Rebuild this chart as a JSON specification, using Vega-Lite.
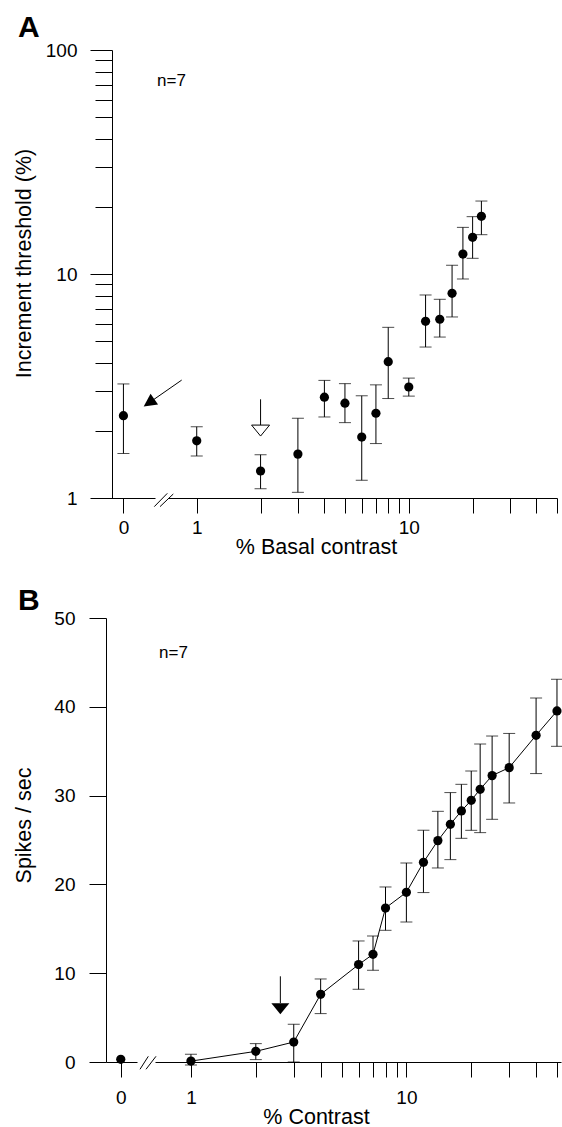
{
  "$schema": "https://vega.github.io/schema/vega-lite/v6.json",
  "background": "white",
  "padding": {"left": 13, "top": 13, "right": 0, "bottom": 0},
  "config": {
    "view": {"stroke": null},
    "font": "Liberation Sans",
    "axis": {"grid": false, "domainColor": "black", "tickColor": "black", "labelColor": "black", "titleColor": "black", "labelFontSize": 19, "titleFontSize": 21.5, "titleFontWeight": "normal", "labelFont": "Liberation Sans", "titleFont": "Liberation Sans", "domainWidth": 1, "tickWidth": 1, "labelFlush": false, "labelOverlap": false},
    "title": {"font": "Liberation Sans", "fontSize": 30, "fontWeight": "bold", "anchor": "start", "color": "black"}
  },
  "datasets": {
    "A": [
      {"x": 1, "y": 1.80, "lo": 1.54, "hi": 2.08},
      {"x": 2, "y": 1.32, "lo": 1.10, "hi": 1.56},
      {"x": 3, "y": 1.57, "lo": 1.06, "hi": 2.27},
      {"x": 4, "y": 2.82, "lo": 2.30, "hi": 3.35},
      {"x": 5, "y": 2.65, "lo": 2.17, "hi": 3.24},
      {"x": 6, "y": 1.87, "lo": 1.20, "hi": 2.86},
      {"x": 7, "y": 2.39, "lo": 1.75, "hi": 3.20},
      {"x": 8, "y": 4.06, "lo": 2.78, "hi": 5.78},
      {"x": 10, "y": 3.13, "lo": 2.85, "hi": 3.43},
      {"x": 12, "y": 6.15, "lo": 4.72, "hi": 8.06},
      {"x": 14, "y": 6.28, "lo": 5.23, "hi": 7.71},
      {"x": 16, "y": 8.20, "lo": 6.43, "hi": 10.94},
      {"x": 18, "y": 12.28, "lo": 9.50, "hi": 16.15},
      {"x": 20, "y": 14.58, "lo": 11.75, "hi": 18.03},
      {"x": 22, "y": 18.09, "lo": 14.98, "hi": 21.17}
    ],
    "A0": [{"x": 0, "y": 2.33, "lo": 1.58, "hi": 3.23}],
    "B": [
      {"x": 1, "y": 0.1, "lo": -0.35, "hi": 0.87},
      {"x": 2, "y": 1.2, "lo": 0.27, "hi": 2.07},
      {"x": 3, "y": 2.25, "lo": 0.0, "hi": 4.25},
      {"x": 4, "y": 7.62, "lo": 5.45, "hi": 9.35},
      {"x": 6, "y": 10.97, "lo": 8.19, "hi": 13.63},
      {"x": 7, "y": 12.13, "lo": 10.33, "hi": 14.19},
      {"x": 8, "y": 17.34, "lo": 14.83, "hi": 19.71},
      {"x": 10, "y": 19.11, "lo": 15.77, "hi": 22.41},
      {"x": 12, "y": 22.49, "lo": 19.08, "hi": 26.1},
      {"x": 14, "y": 24.93, "lo": 21.85, "hi": 28.23},
      {"x": 16, "y": 26.77, "lo": 22.79, "hi": 30.34},
      {"x": 18, "y": 28.27, "lo": 25.19, "hi": 31.27},
      {"x": 20, "y": 29.47, "lo": 26.09, "hi": 32.77},
      {"x": 22, "y": 30.71, "lo": 25.83, "hi": 35.81},
      {"x": 25, "y": 32.25, "lo": 27.33, "hi": 36.71},
      {"x": 30, "y": 33.15, "lo": 29.17, "hi": 37.0},
      {"x": 40, "y": 36.79, "lo": 32.48, "hi": 40.99},
      {"x": 50, "y": 39.53, "lo": 35.55, "hi": 43.1}
    ],
    "B0": [{"x": 0, "y": 0.3}]
  },
  "spacing": 28,
  "vconcat": [
    {
      "title": {"text": "A", "dx": 5, "offset": -2},
      "bounds": "flush",
      "spacing": 13,
      "hconcat": [
        {
          "width": 49,
          "height": 448,
          "resolve": {"axis": {"y": "independent"}},
          "layer": [
            {
              "data": {"name": "A0"},
              "mark": {"type": "errorbar", "rule": {"color": "black", "strokeWidth": 1}, "ticks": {"color": "black", "size": 12, "thickness": 1}},
              "encoding": {
                "x": {"field": "x", "type": "quantitative", "scale": {"domain": [-1.6, 2.9], "nice": false, "zero": false},
                      "axis": {"values": [0], "format": "d", "tickSize": 15, "labelPadding": 5, "title": null}},
                "y": {"field": "lo", "type": "quantitative", "scale": {"type": "log", "domain": [1, 100], "nice": false},
                      "axis": {"orient": "left", "values": [1, 10, 100], "format": "d", "tickSize": 22, "labelPadding": 13, "offset": -6,
                               "title": "Increment threshold (%)", "titleX": -77, "titleY": 213}},
                "y2": {"field": "hi"}
              }
            },
            {
              "data": {"name": "A0"},
              "mark": {"type": "point", "filled": true, "color": "black", "opacity": 1, "size": 85},
              "encoding": {
                "x": {"field": "x", "type": "quantitative", "scale": {"domain": [-1.6, 2.9], "nice": false, "zero": false}},
                "y": {"field": "y", "type": "quantitative", "scale": {"type": "log", "domain": [1, 100], "nice": false},
                      "axis": {"orient": "left", "values": [2, 3, 4, 5, 6, 7, 8, 9, 20, 30, 40, 50, 60, 70, 80, 90], "tickSize": 17, "labels": false, "domain": false, "title": null, "offset": -6}}
              }
            },
            {
              "data": {"values": [
                {"x1": 2.835, "y1": 0.915, "x2": 4.029, "y2": 1.049},
                {"x1": 3.359, "y1": 0.915, "x2": 4.58, "y2": 1.042},
                {"x1": 5.35, "y1": 3.36, "x2": 2.35, "y2": 2.66}
              ]},
              "mark": {"type": "rule", "color": "black", "strokeWidth": 1},
              "encoding": {
                "x": {"field": "x1", "type": "quantitative", "scale": {"domain": [-1.6, 2.9], "nice": false, "zero": false}},
                "x2": {"field": "x2"},
                "y": {"field": "y1", "type": "quantitative", "scale": {"type": "log", "domain": [1, 100], "nice": false}, "axis": null},
                "y2": {"field": "y2"}
              }
            },
            {
              "data": {"values": [{"x": 2.35, "y": 2.66}]},
              "mark": {"type": "point", "shape": "M0,-1L1,1L-1,1Z", "angle": 234.7, "size": 169, "filled": true, "color": "black", "opacity": 1},
              "encoding": {
                "x": {"field": "x", "type": "quantitative", "scale": {"domain": [-1.6, 2.9], "nice": false, "zero": false}},
                "y": {"field": "y", "type": "quantitative", "scale": {"type": "log", "domain": [1, 100], "nice": false}, "axis": null}
              }
            }
          ]
        },
        {
          "width": 389,
          "height": 448,
          "layer": [
            {
              "data": {"name": "A"},
              "mark": {"type": "errorbar", "rule": {"color": "black", "strokeWidth": 1}, "ticks": {"color": "black", "size": 12, "thickness": 1}},
              "encoding": {
                "x": {"field": "x", "type": "quantitative", "scale": {"type": "log", "domain": [0.732, 50], "nice": false},
                      "axis": {"values": [1, 2, 3, 4, 5, 6, 7, 8, 9, 10, 20, 30, 40, 50], "labelExpr": "datum.value === 1 ? '1' : (datum.value === 10 ? '10' : '')", "tickSize": 15, "labelPadding": 5,
                               "title": "% Basal contrast", "titleX": 148, "titleY": 38}},
                "y": {"field": "lo", "type": "quantitative", "scale": {"type": "log", "domain": [1, 100], "nice": false}, "axis": null},
                "y2": {"field": "hi"}
              }
            },
            {
              "data": {"name": "A"},
              "mark": {"type": "point", "filled": true, "color": "black", "opacity": 1, "size": 85},
              "encoding": {
                "x": {"field": "x", "type": "quantitative", "scale": {"type": "log", "domain": [0.732, 50], "nice": false}},
                "y": {"field": "y", "type": "quantitative", "scale": {"type": "log", "domain": [1, 100], "nice": false}, "axis": null}
              }
            },
            {
              "data": {"values": [{"x": 2, "y1": 2.758, "y2": 2.117}]},
              "mark": {"type": "rule", "color": "black", "strokeWidth": 1},
              "encoding": {
                "x": {"field": "x", "type": "quantitative", "scale": {"type": "log", "domain": [0.732, 50], "nice": false}},
                "y": {"field": "y1", "type": "quantitative", "scale": {"type": "log", "domain": [1, 100], "nice": false}, "axis": null},
                "y2": {"field": "y2"}
              }
            },
            {
              "data": {"values": [{"x": 2, "y": 2.0}]},
              "mark": {"type": "point", "shape": "M-1,-0.61L1,-0.61L0,0.61Z", "size": 324, "filled": true, "fill": "white", "stroke": "black", "strokeWidth": 1, "opacity": 1},
              "encoding": {
                "x": {"field": "x", "type": "quantitative", "scale": {"type": "log", "domain": [0.732, 50], "nice": false}},
                "y": {"field": "y", "type": "quantitative", "scale": {"type": "log", "domain": [1, 100], "nice": false}, "axis": null}
              }
            },
            {
              "data": {"values": [{"x": 0.65, "y": 69, "t": "n=7"}]},
              "mark": {"type": "text", "align": "left", "baseline": "alphabetic", "fontSize": 17, "font": "Liberation Sans", "color": "black"},
              "encoding": {
                "x": {"field": "x", "type": "quantitative", "scale": {"type": "log", "domain": [0.732, 50], "nice": false}},
                "y": {"field": "y", "type": "quantitative", "scale": {"type": "log", "domain": [1, 100], "nice": false}, "axis": null},
                "text": {"field": "t"}
              }
            }
          ]
        }
      ]
    },
    {
      "title": {"text": "B", "dx": 5, "offset": -7},
      "bounds": "flush",
      "spacing": 18,
      "hconcat": [
        {
          "width": 31,
          "height": 444,
          "layer": [
            {
              "data": {"name": "B0"},
              "mark": {"type": "point", "filled": true, "color": "black", "opacity": 1, "size": 85},
              "encoding": {
                "x": {"field": "x", "type": "quantitative", "scale": {"domain": [-1, 1.1], "nice": false, "zero": false},
                      "axis": {"values": [0], "format": "d", "tickSize": 15, "labelPadding": 11, "title": null}},
                "y": {"field": "y", "type": "quantitative", "scale": {"domain": [0, 50], "nice": false},
                      "axis": {"values": [0, 10, 20, 30, 40, 50], "format": "d", "tickSize": 17, "labelPadding": 14,
                               "title": "Spikes / sec", "titleX": -71, "titleY": 207}}
              }
            },
            {
              "data": {"values": [
                {"x1": 1.303, "y1": -0.82, "x2": 1.866, "y2": 0.64},
                {"x1": 1.71, "y1": -0.82, "x2": 2.387, "y2": 0.64}
              ]},
              "mark": {"type": "rule", "color": "black", "strokeWidth": 1},
              "encoding": {
                "x": {"field": "x1", "type": "quantitative", "scale": {"domain": [-1, 1.1], "nice": false, "zero": false}},
                "x2": {"field": "x2"},
                "y": {"field": "y1", "type": "quantitative", "scale": {"domain": [0, 50], "nice": false}},
                "y2": {"field": "y2"}
              }
            }
          ]
        },
        {
          "width": 406,
          "height": 444,
          "layer": [
            {
              "data": {"name": "B"},
              "mark": {"type": "errorbar", "rule": {"color": "black", "strokeWidth": 1}, "ticks": {"color": "black", "size": 12, "thickness": 1}},
              "encoding": {
                "x": {"field": "x", "type": "quantitative", "scale": {"type": "log", "domain": [0.681, 52.2], "nice": false},
                      "axis": {"values": [1, 2, 3, 4, 5, 6, 7, 8, 9, 10, 20, 30, 40, 50], "labelExpr": "datum.value === 1 ? '1' : (datum.value === 10 ? '10' : '')", "tickSize": 15, "labelPadding": 11,
                               "title": "% Contrast", "titleX": 161, "titleY": 44}},
                "y": {"field": "lo", "type": "quantitative", "scale": {"domain": [0, 50], "nice": false}, "axis": null},
                "y2": {"field": "hi"}
              }
            },
            {
              "data": {"name": "B"},
              "mark": {"type": "line", "color": "black", "strokeWidth": 1},
              "encoding": {
                "x": {"field": "x", "type": "quantitative", "scale": {"type": "log", "domain": [0.681, 52.2], "nice": false}},
                "y": {"field": "y", "type": "quantitative", "scale": {"domain": [0, 50], "nice": false}, "axis": null}
              }
            },
            {
              "data": {"name": "B"},
              "mark": {"type": "point", "filled": true, "color": "black", "opacity": 1, "size": 85},
              "encoding": {
                "x": {"field": "x", "type": "quantitative", "scale": {"type": "log", "domain": [0.681, 52.2], "nice": false}},
                "y": {"field": "y", "type": "quantitative", "scale": {"domain": [0, 50], "nice": false}, "axis": null}
              }
            },
            {
              "data": {"values": [{"x": 2.6, "y1": 9.65, "y2": 6.64}]},
              "mark": {"type": "rule", "color": "black", "strokeWidth": 1},
              "encoding": {
                "x": {"field": "x", "type": "quantitative", "scale": {"type": "log", "domain": [0.681, 52.2], "nice": false}},
                "y": {"field": "y1", "type": "quantitative", "scale": {"domain": [0, 50], "nice": false}, "axis": null},
                "y2": {"field": "y2"}
              }
            },
            {
              "data": {"values": [{"x": 2.6, "y": 6.0}]},
              "mark": {"type": "point", "shape": "M-1,-0.61L1,-0.61L0,0.61Z", "size": 324, "filled": true, "color": "black", "opacity": 1},
              "encoding": {
                "x": {"field": "x", "type": "quantitative", "scale": {"type": "log", "domain": [0.681, 52.2], "nice": false}},
                "y": {"field": "y", "type": "quantitative", "scale": {"domain": [0, 50], "nice": false}, "axis": null}
              }
            },
            {
              "data": {"values": [{"x": 0.711, "y": 45.46, "t": "n=7"}]},
              "mark": {"type": "text", "align": "left", "baseline": "alphabetic", "fontSize": 17, "font": "Liberation Sans", "color": "black"},
              "encoding": {
                "x": {"field": "x", "type": "quantitative", "scale": {"type": "log", "domain": [0.681, 52.2], "nice": false}},
                "y": {"field": "y", "type": "quantitative", "scale": {"domain": [0, 50], "nice": false}, "axis": null},
                "text": {"field": "t"}
              }
            }
          ]
        }
      ]
    }
  ]
}
